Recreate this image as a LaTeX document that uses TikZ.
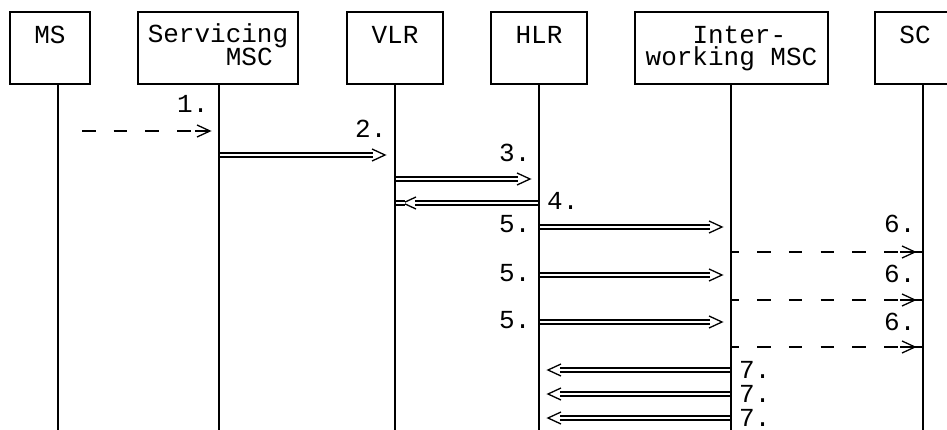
\documentclass[tikz,border=0pt]{standalone}
\usepackage{fontspec}
\setmonofont{Liberation Mono}
\usetikzlibrary{decorations.markings}

\begin{document}
\begin{tikzpicture}[
  x=1pt, y=-1pt,
  every node/.style={font=\ttfamily\fontsize{26}{22}\selectfont},
  entity/.style={draw, line width=1.8pt, inner sep=0pt, minimum height=72pt, text height=32pt, text depth=40pt, align=center, anchor=north},
  twoline/.style={text height=54pt, text depth=18pt},
  lifeline/.style={line width=1.8pt},
  num/.style={inner sep=0pt, anchor=base west},
  pair/.style={postaction={draw, line width=5.6pt, shorten >=#1}, postaction={draw=white, line width=1.6pt, shorten >=#1, shorten <=1.2pt}},
  pair/.default=0pt,
  dbl/.style={pair=12pt, postaction={decorate, decoration={markings, mark=at position 1 with {\draw[line width=1.3pt] (-13pt,-6pt) -- (0pt,0pt) -- (-13pt,6pt);}}}},
  async/.style={draw, line width=1.6pt, dash pattern=on 13.5pt off 18.2pt, postaction={decorate, decoration={markings, mark=at position 1 with {\draw[solid, line width=1.3pt, xshift=-#1] (-13pt,-6pt) -- (0pt,0pt) -- (-13pt,6pt); \draw[solid, line width=1.6pt] (-15pt,0pt) ++(-#1,0pt) -- (0pt,0pt);}}}},
  async/.default=0pt
]
  \useasboundingbox (0,0) rectangle (947,430);

  \node[entity, minimum width=80pt]           (ms)    at (50,11)    {MS};
  \node[entity, twoline, minimum width=160pt] (smsc)  at (218,11)   {Servicing\\\phantom{Serv}MSC};
  \node[entity, minimum width=96pt]           (vlr)   at (395,11)   {VLR};
  \node[entity, minimum width=96pt]           (hlr)   at (539,11)   {HLR};
  \node[entity, twoline, minimum width=193pt] (iwmsc) at (731.5,11) {\phantom{w}Inter-\\working MSC};
  \node[entity, minimum width=80pt]           (sc)    at (915,11)   {SC};

  \coordinate (msbot)    at (58,430);
  \coordinate (smscbot)  at (219,430);
  \coordinate (vlrbot)   at (395,430);
  \coordinate (hlrbot)   at (539,430);
  \coordinate (iwmscbot) at (731,430);
  \coordinate (scbot)    at (923,430);

  \draw[lifeline] (ms.south -| msbot) -- (msbot);
  \draw[lifeline] (smsc.south -| smscbot) -- (smscbot);
  \draw[lifeline] (vlr.south -| vlrbot) -- (vlrbot);
  \draw[lifeline] (hlr.south -| hlrbot) -- (hlrbot);
  \draw[lifeline] (iwmsc.south -| iwmscbot) -- (iwmscbot);
  \draw[lifeline] (sc.south -| scbot) -- (scbot);

  \coordinate (m1a) at (82,131);   \coordinate (m1b) at (210,131);
  \coordinate (m2a) at (219,155);  \coordinate (m2b) at (385,155);
  \coordinate (m3a) at (395,179);  \coordinate (m3b) at (530,179);
  \coordinate (m4a) at (539,203);  \coordinate (m4b) at (403,203);
  \coordinate (m4s) at (395,203);  \coordinate (m4t) at (405,203);

  \draw[async] (m1a) -- (m1b);
  \path[dbl] (m2a) -- (m2b);
  \path[dbl] (m3a) -- (m3b);
  \path[dbl] (m4a) -- (m4b);
  \path[pair] (m4s) -- (m4t);

  \node[num] (n1) at (177,113) {1.};
  \node[num] (n2) at (355,138) {2.};
  \node[num] (n3) at (499,162) {3.};
  \node[num] (n4) at (547,210) {4.};

  \foreach \y/\b [count=\i] in {227/233, 275/282, 322/330} {
    \coordinate (m5a\i) at (539,\y);      \coordinate (m5b\i) at (722,\y);
    \coordinate (m6a\i) at (731,\y+25);   \coordinate (m6b\i) at (923,\y+25);
    \path[dbl] (m5a\i) -- (m5b\i);
    \draw[async=8pt, dash phase=5.5pt] (m6a\i) -- (m6b\i);
    \node[num] (n5\i) at (499,\y+6) {5.};
    \node[num] (n6\i) at (884,\b) {6.};
  }

  \foreach \y [count=\i] in {370, 394, 418} {
    \coordinate (m7a\i) at (731,\y);  \coordinate (m7b\i) at (548,\y);
    \path[dbl] (m7a\i) -- (m7b\i);
    \node[num] (n7\i) at (739,\y+8) {7.};
  }
\end{tikzpicture}
\end{document}
